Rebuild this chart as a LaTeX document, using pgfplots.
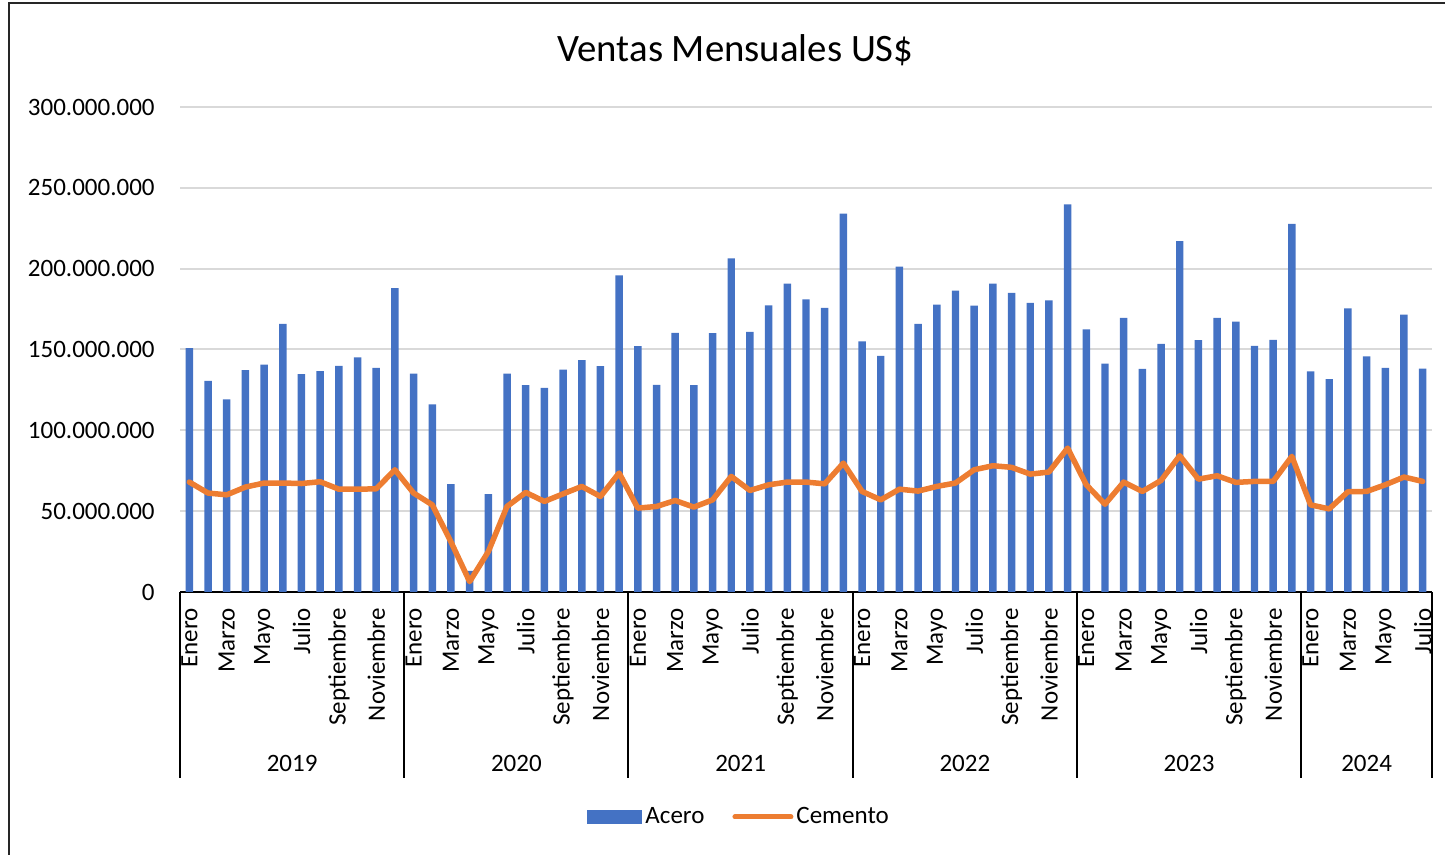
\documentclass[border=0pt]{standalone}
\usepackage{fontspec}
\setmainfont{Carlito}
\usepackage{pgfplots}
\usepackage{pgfplotstable}
\pgfplotsset{compat=1.18}
\definecolor{acero}{HTML}{4472C4}
\definecolor{cemento}{HTML}{ED7D31}
\definecolor{gridgray}{HTML}{D9D9D9}

\pgfplotstableread{
x acero cemento
0 150.8 68.0
1 130.6 61.2
2 119.2 60.1
3 137.2 64.9
4 140.7 67.4
5 165.9 67.4
6 134.7 67.1
7 136.6 68.2
8 139.9 63.6
9 145.2 63.6
10 138.6 63.8
11 188.0 75.6
12 135.1 61.2
13 116.1 53.9
14 66.7 31.0
15 13.0 6.4
16 60.5 25.0
17 135.1 52.9
18 127.9 61.6
19 126.2 56.0
20 137.6 60.7
21 143.4 65.3
22 139.7 59.1
23 195.9 73.6
24 152.1 51.9
25 128.1 52.9
26 160.3 56.6
27 127.9 52.5
28 160.1 57.0
29 206.4 71.5
30 160.9 62.8
31 177.3 66.3
32 190.7 68.0
33 181.0 68.0
34 175.8 66.9
35 234.1 79.7
36 155.0 62.2
37 146.1 57.0
38 201.2 63.6
39 165.9 62.4
40 177.7 65.3
41 186.4 67.4
42 177.1 75.6
43 190.7 78.1
44 185.1 77.1
45 178.9 72.9
46 180.4 74.2
47 239.7 89.0
48 162.4 66.3
49 141.3 54.3
50 169.6 68.0
51 138.0 62.2
52 153.5 69.0
53 217.1 84.3
54 155.8 69.8
55 169.6 71.9
56 167.3 67.8
57 152.3 68.4
58 156.0 68.4
59 227.7 83.9
60 136.4 53.9
61 131.6 51.4
62 175.4 62.0
63 145.7 62.2
64 138.6 66.3
65 171.5 71.1
66 138.2 68.4
}\ventas

\begin{document}
\begin{tikzpicture}
\useasboundingbox (0pt,0pt) rectangle (722.5pt,427.5pt);
\draw[line width=1pt, black!85] (4.25pt,-10pt) -- (4.25pt,425.75pt) -- (740pt,425.75pt);
\node[font=\fontsize{19.4}{23}\selectfont] at (367.75pt,402.5pt) {Ventas Mensuales US\$};
\begin{axis}[
  at={(90pt,131.5pt)}, anchor=south west,
  scale only axis, width=626pt, height=242.5pt,
  xmin=-0.5, xmax=66.5, ymin=0, ymax=300,
  clip=false,
  axis x line*=bottom, axis y line*=left,
  x axis line style={black, line width=1pt},
  y axis line style={draw=none},
  major tick length=0pt,
  ytick={0,50,100,150,200,250,300},
  yticklabels={0,50.000.000,100.000.000,150.000.000,200.000.000,250.000.000,300.000.000},
  yticklabel style={anchor=east, inner sep=0pt, xshift=-12.5pt, font=\fontsize{12.5}{15}\selectfont},
  ymajorgrids, grid style={gridgray, line width=1pt},
  xtick={0,2,...,66},
  xticklabels={Enero,Marzo,Mayo,Julio,Septiembre,Noviembre,
               Enero,Marzo,Mayo,Julio,Septiembre,Noviembre,
               Enero,Marzo,Mayo,Julio,Septiembre,Noviembre,
               Enero,Marzo,Mayo,Julio,Septiembre,Noviembre,
               Enero,Marzo,Mayo,Julio,Septiembre,Noviembre,
               Enero,Marzo,Mayo,Julio},
  xticklabel style={rotate=90, anchor=east, inner sep=0pt, yshift=0pt, font=\fontsize{12.5}{15}\selectfont},
  xticklabel shift=8pt,
  legend style={draw=none, at={(0.447,0)}, anchor=center, yshift=-112.5pt,
    font=\fontsize{12.5}{15}\selectfont,
    nodes={inner sep=1.5pt},
    /tikz/column sep=0pt,
    /tikz/column 2/.style={column sep=12.5pt}},
  legend columns=2,
]
\addplot[ybar, bar width=0.4, fill=acero, draw=none,
  legend image code/.code={\fill[acero] (0pt,-3.5pt) rectangle (27.5pt,3.5pt);}]
  table[x=x, y=acero] {\ventas};
\addlegendentry{Acero}
\addplot[cemento, line width=2.75pt, line join=round, line cap=round, mark=none,
  legend image code/.code={\draw[cemento, line width=2.5pt, line cap=round] (0pt,0pt) -- (28pt,0pt);}]
  table[x=x, y=cemento] {\ventas};
\addlegendentry{Cemento}
\pgfplotsinvokeforeach{-0.5,11.5,23.5,35.5,47.5,59.5,66.5}{
  \draw[black, line width=1pt] (axis cs:#1,0) -- ++(0pt,-93pt);
}
\node[font=\fontsize{12.5}{15}\selectfont, yshift=-85.5pt] at (axis cs:5.5,0) {2019};
\node[font=\fontsize{12.5}{15}\selectfont, yshift=-85.5pt] at (axis cs:17.5,0) {2020};
\node[font=\fontsize{12.5}{15}\selectfont, yshift=-85.5pt] at (axis cs:29.5,0) {2021};
\node[font=\fontsize{12.5}{15}\selectfont, yshift=-85.5pt] at (axis cs:41.5,0) {2022};
\node[font=\fontsize{12.5}{15}\selectfont, yshift=-85.5pt] at (axis cs:53.5,0) {2023};
\node[font=\fontsize{12.5}{15}\selectfont, yshift=-85.5pt] at (axis cs:63,0) {2024};
\end{axis}
\end{tikzpicture}
\end{document}
